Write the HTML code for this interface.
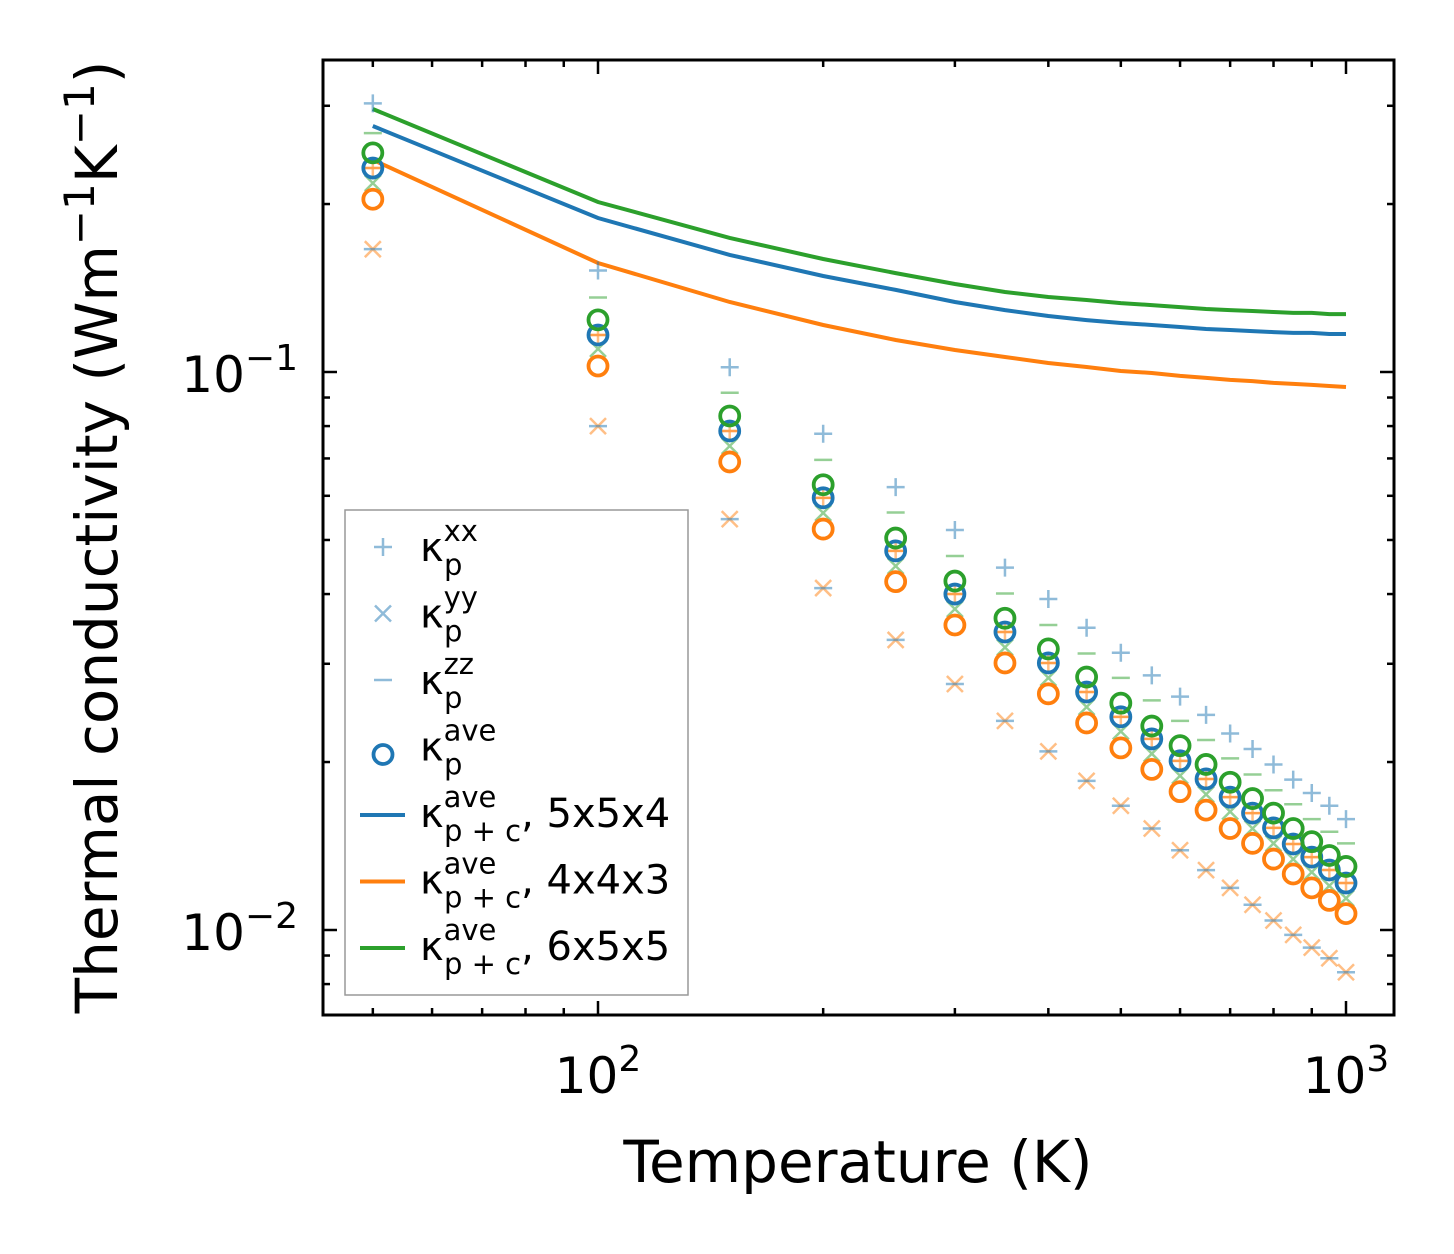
<!DOCTYPE html>
<html><head><meta charset="utf-8"><style>
html,body{margin:0;padding:0;background:#fff}
svg{display:block;font-family:"DejaVu Sans","Liberation Sans",sans-serif}
</style></head><body>
<svg id="chart" width="1454" height="1254" viewBox="0 0 1454 1254" xmlns="http://www.w3.org/2000/svg">
<rect width="1454" height="1254" fill="#fff"/>
<g id="ticks"></g>
<g id="marks"></g>
<rect x="323" y="60" width="1071" height="955" fill="none" stroke="#000" stroke-width="3"/>
<g font-size="50" text-anchor="end">
<text x="298" y="392">10<tspan dy="-22" font-size="36">−1</tspan></text>
<text x="298" y="950">10<tspan dy="-22" font-size="36">−2</tspan></text>
</g>
<g font-size="50" text-anchor="middle">
<text x="598" y="1093">10<tspan dy="-22" font-size="36">2</tspan></text>
<text x="1346" y="1093">10<tspan dy="-22" font-size="36">3</tspan></text>
</g>
<text x="858" y="1182" font-size="58" text-anchor="middle">Temperature (K)</text>
<text transform="translate(117,537) rotate(-90)" font-size="58" text-anchor="middle">Thermal conductivity (Wm<tspan dy="-23" font-size="42">−1</tspan><tspan dy="23">K</tspan><tspan dy="-23" font-size="42">−1</tspan><tspan dy="23">)</tspan></text>
<g id="legend">
<rect x="345" y="510" width="343" height="485" fill="#fff" fill-opacity="0.85" stroke="#999" stroke-width="1.5"/>
</g>
</svg>
<script>
const temps=[50,100,150,200,250,300,350,400,450,500,550,600,650,700,750,800,850,900,950,1000];
const blueAve=[0.232,0.1165,0.0784,0.0595,0.0478,0.0400,0.0342,0.0301,0.0267,0.0241,0.0220,0.0201,0.01865,0.0173,0.0162,0.01524,0.01426,0.01351,0.01281,0.01214];
const greenAve=[0.247,0.124,0.0834,0.0628,0.0504,0.0422,0.0362,0.0319,0.0284,0.0255,0.0232,0.0214,0.0198,0.0184,0.0172,0.0162,0.0152,0.0144,0.0136,0.0130];
const orangeAve=[0.204,0.1025,0.0690,0.0523,0.0421,0.0352,0.0301,0.0265,0.0235,0.0212,0.0194,0.0177,0.0164,0.0152,0.0143,0.0134,0.0126,0.0119,0.0113,0.0107];
const blueXX=[0.303,0.152,0.102,0.0775,0.0622,0.0521,0.0446,0.0392,0.0348,0.0314,0.0286,0.0262,0.0243,0.0225,0.0211,0.0198,0.0186,0.0176,0.0167,0.0158];
const orangeYY=[0.166,0.0800,0.0545,0.0410,0.0331,0.0276,0.0237,0.0209,0.0185,0.0167,0.0152,0.0139,0.0128,0.0119,0.0111,0.0104,0.0098,0.0093,0.0089,0.0084];
const greenZZ=[0.268,0.136,0.0918,0.0696,0.0560,0.0468,0.0401,0.0352,0.0313,0.0283,0.0258,0.0237,0.0219,0.0203,0.0190,0.0178,0.0168,0.0158,0.0150,0.0143];
const greenYY=[0.218,0.110,0.0737,0.0559,0.0449,0.0376,0.0321,0.0283,0.0251,0.0227,0.0207,0.0189,0.0175,0.0163,0.0152,0.0143,0.0134,0.0127,0.0120,0.0114];
const blueLine=[0.276,0.1888,0.1621,0.1486,0.1403,0.1335,0.1291,0.1260,0.1239,0.1224,0.1214,0.1204,0.1194,0.1189,0.1184,0.1179,0.1175,0.1175,0.1170,0.1170];
const orangeLine=[0.240,0.1568,0.1335,0.1214,0.1141,0.1095,0.1064,0.1038,0.1021,0.1004,0.0996,0.0984,0.0976,0.0968,0.0963,0.0956,0.0952,0.0948,0.0944,0.0940];
const greenLine=[0.296,0.2017,0.1739,0.1594,0.1504,0.1438,0.1391,0.1363,0.1346,0.1329,0.1318,0.1307,0.1297,0.1291,0.1286,0.1281,0.1276,0.1276,0.1270,0.1270];
const xMajor=[100,1000];
const xMinor=[50,60,70,80,90,200,300,400,500,600,700,800,900];
const yMajor=[0.1,0.01];
const yMinor=[0.008,0.009,0.02,0.03,0.04,0.05,0.06,0.07,0.08,0.09,0.2,0.3];

const NS='http://www.w3.org/2000/svg';
const X0=323,X1=1394,Y0=60,Y1=1015;
function xs(t){return 598+748*(Math.log10(t)-2);}
function ys(v){return 372-558*(Math.log10(v)+1);}
function mk(tag,attrs,parent){const e=document.createElementNS(NS,tag);for(const k in attrs)e.setAttribute(k,attrs[k]);parent.appendChild(e);return e;}
const C={blue:'#1f77b4',orange:'#ff7f0e',green:'#2ca02c'};
const ticks=document.getElementById('ticks');
function tick(x1,y1,x2,y2,nm){const l=mk('line',{x1,y1,x2,y2,stroke:'#000','stroke-width':2.5},ticks);

}
xMajor.forEach(t=>{const x=xs(t);tick(x,Y1,x,Y1-14,'x-major-tick');tick(x,Y0,x,Y0+14,'x-major-tick-top');});
xMinor.forEach(t=>{const x=xs(t);tick(x,Y1,x,Y1-7,'x-minor-tick');tick(x,Y0,x,Y0+7,'x-minor-tick-top');});
yMajor.forEach(v=>{const y=ys(v);tick(X0,y,X0+14,y,'y-major-tick');tick(X1,y,X1-14,y,'y-major-tick-right');});
yMinor.forEach(v=>{const y=ys(v);tick(X0,y,X0+7,y,'y-minor-tick');tick(X1,y,X1-7,y,'y-minor-tick-right');});

const marks=document.getElementById('marks');
function plus(x,y,c,g){const p=mk('path',{d:`M${x-9},${y}h18M${x},${y-9}v18`,stroke:c,'stroke-width':2.5,'stroke-opacity':0.5,fill:'none'},g);

}
function cross(x,y,c,g){const p=mk('path',{d:`M${x-8},${y-8}l16,16M${x-8},${y+8}l16,-16`,stroke:c,'stroke-width':2.5,'stroke-opacity':0.5,fill:'none'},g);

}
function dash(x,y,c,g){const p=mk('path',{d:`M${x-9},${y}h18`,stroke:c,'stroke-width':2.5,'stroke-opacity':0.5,fill:'none'},g);

}
function circ(x,y,c,g){const p=mk('circle',{cx:x,cy:y,r:9.5,stroke:c,'stroke-width':3.8,fill:'none'},g);

}
function line(arr,c,nm){const d=arr.map((v,i)=>(i?'L':'M')+xs(temps[i]).toFixed(1)+','+ys(v).toFixed(1)).join('');
const p=mk('path',{d,stroke:c,'stroke-width':4,fill:'none'},marks);

}
line(blueLine,C.blue,'line-5x5x4');
line(orangeLine,C.orange,'line-4x4x3');
line(greenLine,C.green,'line-6x5x5');
temps.forEach((t,i)=>{const x=xs(t);
 cross(x,ys(greenYY[i]),C.green,marks);
 plus(x,ys(blueAve[i]),C.orange,marks);
 dash(x,ys(blueAve[i]),C.orange,marks);
 cross(x,ys(orangeYY[i]),C.orange,marks);
 dash(x,ys(orangeYY[i]),C.blue,marks);
 dash(x,ys(greenZZ[i]),C.green,marks);
 plus(x,ys(blueXX[i]),C.blue,marks);
});
temps.forEach((t,i)=>{const x=xs(t);
 circ(x,ys(orangeAve[i]),C.orange,marks);
 circ(x,ys(blueAve[i]),C.blue,marks);
 circ(x,ys(greenAve[i]),C.green,marks);
});

const leg=document.getElementById('legend');
const entries=[['plus','xx',''],['cross','yy',''],['dash','zz',''],['circ','ave',''],['line','ave',', 5x5x4',C.blue],['line','ave',', 4x4x3',C.orange],['line','ave',', 6x5x5',C.green]];
entries.forEach((e,i)=>{const y=547+i*66.5;
 const g=mk('g',{},leg);
 
 
 if(e[0]==='plus')plus(383,y,C.blue,g);
 else if(e[0]==='cross')cross(383,y,C.blue,g);
 else if(e[0]==='dash')dash(383,y,C.blue,g);
 else if(e[0]==='circ')circ(383,y+8,C.blue,g);
 else{mk('line',{x1:360,y1:y+2,x2:405,y2:y+2,stroke:e[3],'stroke-width':4},g);}
 const tx=mk('text',{x:420,y:y+14,'font-size':40},g);
 const sub=e[0]==='line'?'p + c':'p';
 tx.innerHTML=`κ<tspan font-size="29" dy="-20">${e[1]}</tspan><tspan font-size="29" x="${420+24}" dy="34">${sub}</tspan><tspan dy="-14">${e[2]}</tspan>`;
});
</script>
</body></html>
